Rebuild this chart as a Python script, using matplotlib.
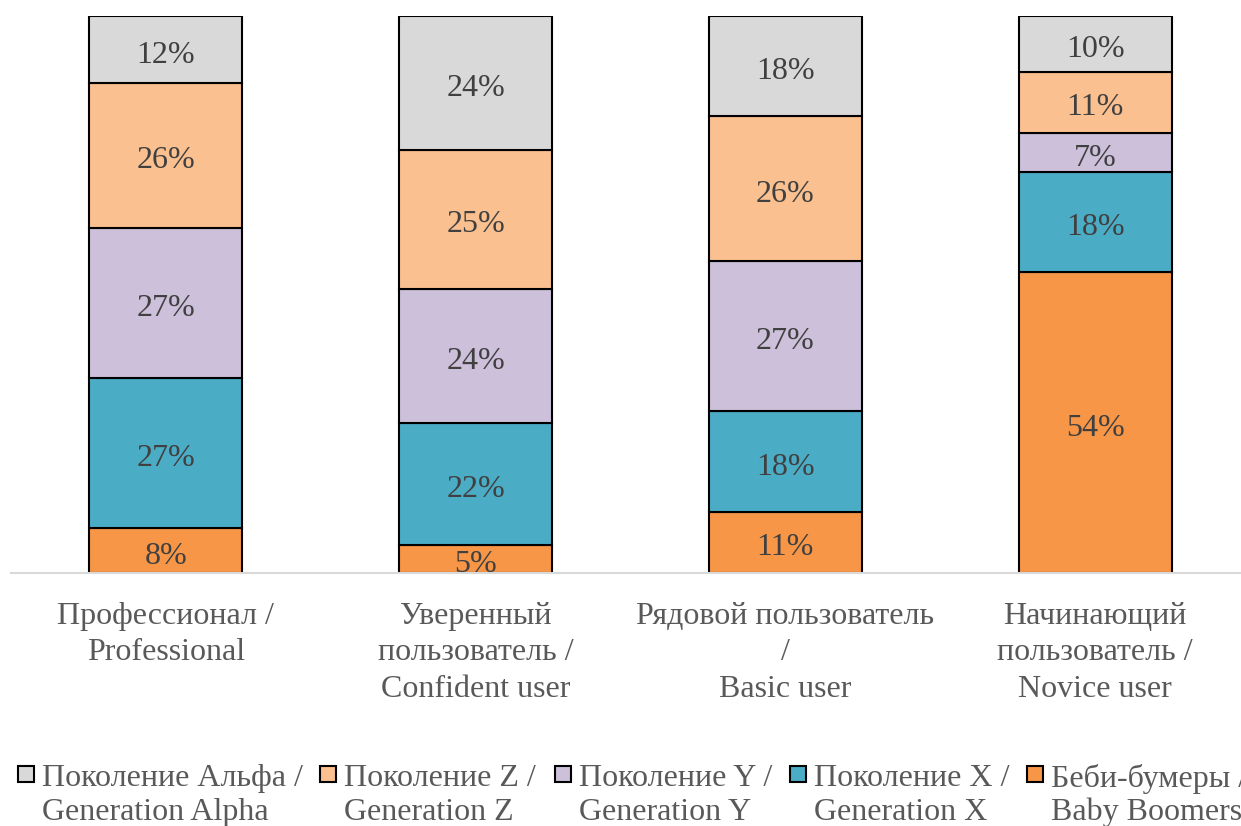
import matplotlib.pyplot as plt
from matplotlib.patches import Rectangle

plt.rcParams['font.family'] = ['Liberation Serif', 'DejaVu Serif']

categories = ["Профессионал /\nProfessional",
              "Уверенный\nпользователь /\nConfident user",
              "Рядовой пользователь\n/\nBasic user",
              "Начинающий\nпользователь /\nNovice user"]

series_names = ["Беби-бумеры /\nBaby Boomers",
                "Поколение X /\nGeneration X",
                "Поколение Y /\nGeneration Y",
                "Поколение Z /\nGeneration Z",
                "Поколение Альфа /\nGeneration Alpha"]

boomers = [8, 5, 11, 54]
gen_x = [27, 22, 18, 18]
gen_y = [27, 24, 27, 7]
gen_z = [26, 25, 26, 11]
alpha = [12, 24, 18, 10]

colors = ["#F79646", "#4BACC6", "#CCC0DA", "#FAC090", "#D9D9D9"]

W, H = 1241, 826
fig = plt.figure(figsize=(W / 100, H / 100), dpi=100)
ax = fig.add_axes([11 / W, 253 / H, 1239 / W, 557 / H])

x = list(range(len(categories)))
bottom = [0] * len(categories)
for vals, col in zip([boomers, gen_x, gen_y, gen_z, alpha], colors):
    ax.bar(x, vals, 0.494, bottom=bottom, color=col,
           edgecolor="black", linewidth=1.5)
    for i, v in enumerate(vals):
        ax.annotate(f"{v}%", (x[i], bottom[i] + v / 2), xytext=(0, -1.5),
                    textcoords="offset points", ha="center",
                    va="center_baseline", fontsize=23, color="#404040")
    bottom = [b + v for b, v in zip(bottom, vals)]

ax.set_xlim(-0.5, 3.5)
ax.set_ylim(0, 100)
ax.set_xticks(x)
ax.set_xticklabels(categories, fontsize=23, color="#595959", linespacing=1.33)
ax.tick_params(axis="x", length=0, pad=21)
ax.set_yticks([])
for s in ["top", "right", "left"]:
    ax.spines[s].set_visible(False)
ax.spines["bottom"].set_color("#D9D9D9")
ax.spines["bottom"].set_linewidth(1.5)

# legend, drawn by hand so that the marker sits on the first line
order = [4, 3, 2, 1, 0]
leg_x = [18, 320, 555, 790, 1027]
for px, i in zip(leg_x, order):
    fig.patches.append(Rectangle((px / W, (H - 782) / H), 16 / W, 16 / H,
                                 transform=fig.transFigure, facecolor=colors[i],
                                 edgecolor="black", linewidth=1.5))
    first, second = series_names[i].split("\n")
    fig.text((px + 24) / W, (H - 775) / H, first, fontsize=23, color="#595959",
             ha="left", va="center_baseline")
    fig.text((px + 24) / W, (H - 809) / H, second, fontsize=23, color="#595959",
             ha="left", va="center_baseline")

fig.savefig("out.png", dpi=100)
